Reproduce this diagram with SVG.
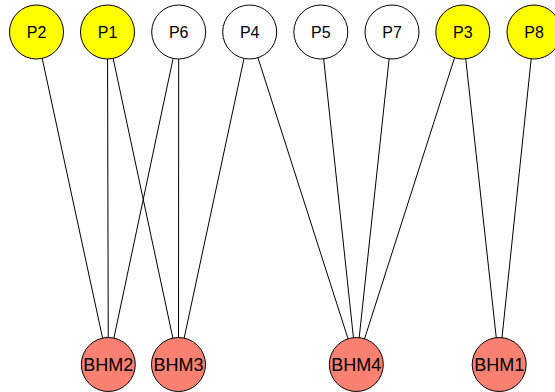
<svg xmlns="http://www.w3.org/2000/svg" width="555" height="392" viewBox="0 0 555 392">
<style>
.e{stroke:#000;stroke-width:1;fill:none}
.n circle{stroke:#000;stroke-width:1}
.y{fill:#ffff00}
.w{fill:#ffffff}
.r{fill:#fa8072}
text{font-family:"Liberation Sans",Arial,sans-serif;font-size:16px;text-anchor:middle;fill:#000}
.b text{font-size:18px}
</style>
<rect width="555" height="392" fill="#fff"/>
<g id="edges">
<line class="e" x1="36.5" y1="32" x2="108.3" y2="364.5"/>
<line class="e" x1="107.5" y1="32" x2="108.3" y2="364.5"/>
<line class="e" x1="107.5" y1="32" x2="178.5" y2="364.5"/>
<line class="e" x1="178.7" y1="32" x2="108.3" y2="364.5"/>
<line class="e" x1="178.7" y1="32" x2="178.5" y2="364.5"/>
<line class="e" x1="249.7" y1="32" x2="178.5" y2="364.5"/>
<line class="e" x1="249.7" y1="32" x2="356.3" y2="364.5"/>
<line class="e" x1="320.8" y1="32" x2="356.3" y2="364.5"/>
<line class="e" x1="392" y1="32" x2="356.3" y2="364.5"/>
<line class="e" x1="462.8" y1="32" x2="356.3" y2="364.5"/>
<line class="e" x1="462.8" y1="32" x2="499.2" y2="364.5"/>
<line class="e" x1="534" y1="32" x2="499.2" y2="364.5"/>
</g>
<g id="P2" class="n"><circle class="y" cx="36.5" cy="32" r="27"/><text x="36.5" y="38.3">P2</text></g>
<g id="P1" class="n"><circle class="y" cx="107.5" cy="32" r="27"/><text x="107.5" y="38.3">P1</text></g>
<g id="P6" class="n"><circle class="w" cx="178.7" cy="32" r="27"/><text x="178.7" y="38.3">P6</text></g>
<g id="P4" class="n"><circle class="w" cx="249.7" cy="32" r="27"/><text x="249.7" y="38.3">P4</text></g>
<g id="P5" class="n"><circle class="w" cx="320.8" cy="32" r="27"/><text x="320.8" y="38.3">P5</text></g>
<g id="P7" class="n"><circle class="w" cx="392" cy="32" r="27"/><text x="392" y="38.3">P7</text></g>
<g id="P3" class="n"><circle class="y" cx="462.8" cy="32" r="27"/><text x="462.8" y="38.3">P3</text></g>
<g id="P8" class="n"><circle class="y" cx="534" cy="32" r="27"/><text x="534" y="38.3">P8</text></g>
<g id="BHM2" class="n b"><circle class="r" cx="108.3" cy="364.5" r="27"/><text x="108.3" y="371">BHM2</text></g>
<g id="BHM3" class="n b"><circle class="r" cx="178.5" cy="364.5" r="27"/><text x="178.5" y="371">BHM3</text></g>
<g id="BHM4" class="n b"><circle class="r" cx="356.3" cy="364.5" r="27"/><text x="356.3" y="371">BHM4</text></g>
<g id="BHM1" class="n b"><circle class="r" cx="499.2" cy="364.5" r="27"/><text x="499.2" y="371">BHM1</text></g>
</svg>
